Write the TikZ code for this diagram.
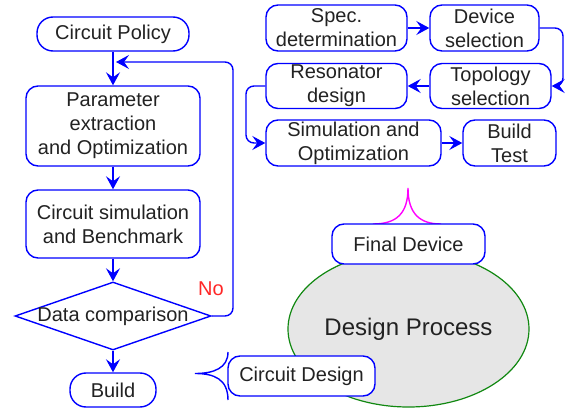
\documentclass[tikz,border=0pt]{standalone}
\usepackage{fontspec}
\setmainfont{Liberation Sans}
\usetikzlibrary{shapes.geometric,arrows.meta}
\definecolor{txt}{HTML}{222222}
\definecolor{fillgray}{HTML}{E6E6E6}
\definecolor{grn}{HTML}{118811}
\definecolor{mag}{HTML}{FF00FF}
\begin{document}
\begin{tikzpicture}[x=1pt,y=-1pt,
  box/.style={draw=blue, line width=1.4pt, rounded corners=12pt, fill=white,
    align=center, inner sep=0pt, text=txt, font=\fontsize{20}{24}\selectfont},
  pill/.style={box, rounded corners=16pt},
  flow/.style={draw=blue, line width=1.4pt, rounded corners=8pt,
    -{Stealth[length=13pt,width=14pt,inset=5pt]}},
  plain/.style={draw=blue, line width=1.4pt},
]
\useasboundingbox (0,0) rectangle (566,415);

% ellipse
\node[ellipse, draw=grn, line width=1.2pt, fill=fillgray, minimum width=241pt,
  minimum height=156pt, inner sep=0pt, text=txt, font=\fontsize{24}{28}\selectfont]
  (dp) at (408.5,329) {Design Process};

% callouts
\draw[mag, line width=1.4pt] (373,224) .. controls (396,224) and (408,214) .. (408,188)
  .. controls (408,214) and (420,224) .. (441,224);
\node[box, minimum width=153pt, minimum height=40pt] (fd) at (408.5,244) {Final Device};

\node[box, minimum width=147pt, minimum height=40pt] (cd) at (301.5,376) {Circuit Design};
\draw[plain] (228,352) .. controls (228,368) and (214,373.5) .. (195,373.5)
  .. controls (214,373.5) and (228,379) .. (228,400);

% left flowchart
\node[pill, minimum width=152pt, minimum height=34pt] (cp) at (113,34) {Circuit Policy};
\node[box, minimum width=174pt, minimum height=80pt] (pe) at (113,126) {Parameter\\extraction\\and Optimization};
\node[box, minimum width=174pt, minimum height=68pt] (cs) at (113,224) {Circuit simulation\\and Benchmark};
\node[diamond, draw=blue, line width=1.4pt, minimum width=196pt, minimum height=68pt,
  inner sep=0pt, text=txt, font=\fontsize{20}{24}\selectfont] (dc) at (113,316)
  {\makebox[0pt]{Data comparison}};
\node[pill, minimum width=86pt, minimum height=34pt] (bd) at (113,390) {Build};
\node[text=red!85, font=\fontsize{20}{24}\selectfont, inner sep=0pt] (no) at (211,289) {No};

\coordinate (fbend) at (116,62);
\draw[flow] (cp) -- (pe);
\draw[flow] (pe) -- (cs);
\draw[flow] (cs) -- (dc);
\draw[flow] (dc) -- (bd);
\draw[flow] (dc.east) -- (233,316) -- (233,62) -- (fbend);

% right flowchart
\node[box, minimum width=141pt, minimum height=46pt] (sp) at (336.5,28) {Spec.\\determination};
\node[box, minimum width=109pt, minimum height=46pt] (ds) at (484.5,28) {Device\\selection};
\node[box, minimum width=121pt, minimum height=45pt] (ts) at (490.5,86) {Topology\\selection};
\node[box, minimum width=141pt, minimum height=45pt] (rd) at (336.5,86) {Resonator\\design};
\node[box, minimum width=175pt, minimum height=46pt] (so) at (353.5,143) {Simulation and\\Optimization};
\node[box, minimum width=93pt, minimum height=46pt] (bt) at (509.5,143) {Build\\Test};

\draw[flow] (sp) -- (ds);
\draw[flow] (ds.east) -- (563,28) -- (563,86) -- (ts.east);
\draw[flow] (ts) -- (rd);
\draw[flow] (rd.west) -- (246,86) -- (246,143) -- (so.west);
\draw[flow] (so) -- (bt);
\end{tikzpicture}
\end{document}
